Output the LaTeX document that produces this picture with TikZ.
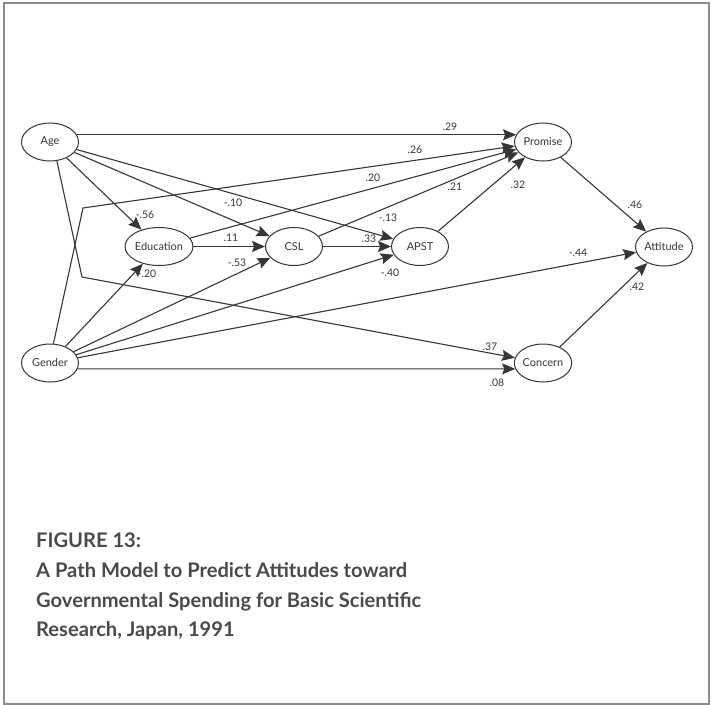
\documentclass[tikz,border=0pt]{standalone}
\usepackage{fontspec}
\setmainfont{Lato}
\usetikzlibrary{positioning,shapes.geometric,arrows.meta}
\definecolor{ink}{HTML}{363636}
\definecolor{framegray}{HTML}{8C8C8C}
\definecolor{titlegray}{HTML}{4A4A4A}

\begin{document}
\begin{tikzpicture}[x=1bp,y=-1bp,
  var/.style={ellipse,draw=ink,line width=1bp,fill=white,minimum width=57bp,minimum height=38bp,inner sep=0pt,font=\fontsize{11}{12}\selectfont,text=ink},
  arr/.style={-{Stealth[length=13bp,width=11bp,inset=2bp]},draw=ink,line width=1.1bp},
  coef/.style={font=\fontsize{10.5}{11}\selectfont,text=ink,inner sep=0pt},
  caption/.style={font=\fontsize{20.2}{29.7}\selectfont\bfseries,text=titlegray,align=left,inner sep=0pt},
]
\useasboundingbox (0,0) rectangle (713,705);
\draw[framegray,line width=1.3bp] (4,3) rectangle (709,704);

% Variables
\node[var] (age)  at (50,142)  {Age};
\node[var] (edu)  at (159,246.5) {Education};
\node[var] (csl)  at (294,246.5) {CSL};
\node[var] (apst) at (420,246.5) {APST};
\node[var] (prom) at (543,142)  {Promise};
\node[var] (att)  at (664,247)  {Attitude};
\node[var] (gen)  at (50,363)   {Gender};
\node[var] (conc) at (543,363)  {Concern};

% Bends of the two routed paths
\coordinate (agebend) at (82,277);
\coordinate (genbend) at (83,208);

% Paths from Age
\draw[arr] (age.15) -- (prom.165);
\draw[arr] (age) -- (edu);
\draw[arr] (age) -- (csl);
\draw[arr] (age) -- (apst);
\draw[arr] (age.-70) -- (agebend) -- (conc);

% Paths from Gender
\draw[arr] (gen.80) -- (genbend) -- (prom);
\draw[arr] (gen) -- (edu);
\draw[arr] (gen) -- (csl);
\draw[arr] (gen) -- (apst);
\draw[arr] (gen) -- (att);
\draw[arr] (gen.-12) -- (conc.192);

% Mediators
\draw[arr] (edu) -- (csl);
\draw[arr] (csl) -- (apst);
\draw[arr] (edu) -- (prom);
\draw[arr] (csl) -- (prom);
\draw[arr] (apst) -- (prom);
\draw[arr] (prom) -- (att);
\draw[arr] (conc) -- (att);

% Coefficients
\node[coef] (c29) at (450,127) {.29};
\node[coef] (c26) at (415,150) {.26};
\node[coef] (c20) at (373,178) {.20};
\node[coef] (c21) at (455,187) {.21};
\node[coef] (c32) at (518,185) {.32};
\node[coef] (c10) at (233,203) {-.10};
\node[coef] (c56) at (145,215) {-.56};
\node[coef] (c13) at (388,218) {-.13};
\node[coef] (c11) at (231,238) {.11};
\node[coef] (c33) at (369,239) {.33};
\node[coef] (c53) at (237,263) {-.53};
\node[coef] (c20b) at (147,274) {-.20};
\node[coef] (c40) at (390,273) {-.40};
\node[coef] (c44) at (578,253) {-.44};
\node[coef] (c46) at (635,205) {.46};
\node[coef] (c42) at (637,287) {.42};
\node[coef] (c37) at (490,347) {.37};
\node[coef] (c08) at (497,383) {.08};

% Caption
\node[caption,anchor=north west] (cap) at (36,533) {FIGURE 13:\\A Path Model to Predict Attitudes toward\\Governmental Spending for Basic Scientific\\Research, Japan, 1991};
\end{tikzpicture}
\end{document}
